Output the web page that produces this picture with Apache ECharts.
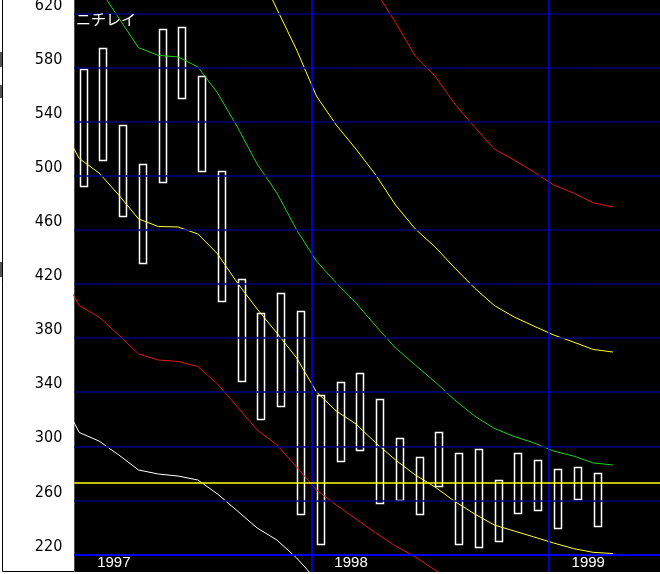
<!DOCTYPE html>
<html><head><meta charset="utf-8">
<script src="https://cdn.jsdelivr.net/npm/echarts@6/dist/echarts.min.js"></script>
<style>html,body{margin:0;padding:0;background:#fff}#c{width:660px;height:574px}</style>
</head><body><div id="c"></div>
<script>
// ---- data (monthly, month 0 = Jan 1997) ----
const chartTitle = 'ニチレイ';
const yearLabels = ['1997', '1998', '1999'];
const yearLabelMonths = [2, 14, 26];
const yearStartMonths = [12, 24];
const refLevel = 273;
const yTicks = [220, 260, 300, 340, 380, 420, 460, 500, 540, 580, 620];

// monthly range boxes (Jan 1997 .. Mar 1999)
const barHigh = [578.7, 594.3, 537.6, 508.7, 608.3, 609.8, 573.8, 503.5, 423.5, 398.3, 413.1, 399.8,
                 337.7, 347.8, 354.0, 334.8, 305.9, 292.3, 310.8, 294.8, 297.8, 274.9, 294.8, 289.6,
                 283.0, 284.5, 280.0];
const barLow  = [491.9, 511.2, 470.3, 435.3, 494.9, 557.3, 503.5, 407.4, 347.8, 320.0, 329.8, 249.9,
                 227.2, 289.4, 297.0, 257.9, 260.3, 249.9, 270.6, 227.5, 225.5, 229.8, 250.5, 252.7,
                 239.4, 260.8, 240.9];

// band lines; each starts at the given month
const redUpperStart = 14;
const redUpper = [660.3, 636.7, 613.4, 588.6, 573.8, 553.1, 536.1, 519.8, 511.7, 502.8, 493.2, 487.3, 480.0, 477.0];
const yellowUpperStart = 9;
const yellowUpper = [653.7, 623.3, 593.0, 559.0, 537.6, 519.8, 500.6, 478.4, 460.7, 447.4, 431.8, 417.0,
                     404.1, 395.6, 388.9, 382.3, 377.1, 371.6, 369.7];
const greenStart = 0;
const greenBand = [660.3, 638.7, 616.7, 594.7, 589.0, 587.9, 580.5, 561.2, 536.1, 508.7, 487.3, 460.0,
                   437.0, 420.8, 406.0, 389.0, 372.7, 360.1, 347.6, 334.2, 322.4, 313.2, 307.3, 302.5,
                   296.5, 292.8, 287.7, 286.2];
const yellowMidStart = -1;
const yellowMid = [539.8, 512.8, 502.1, 485.8, 468.1, 462.5, 462.2, 457.0, 442.2, 420.8, 401.5, 383.8,
                   365.3, 340.2, 326.1, 316.5, 302.5, 289.9, 278.8, 269.9, 259.2, 250.0, 241.8, 237.4,
                   233.0, 228.5, 224.4, 221.6, 220.7];
const redLowerStart = -1;
const redLower = [430.4, 404.1, 395.6, 382.3, 368.3, 363.8, 362.7, 359.0, 346.1, 329.1, 312.1, 301.0,
                  284.7, 267.7, 256.6, 246.3, 235.9, 226.3, 218.2, 208.5, 198.9];
const whiteStart = -1;
const whiteLower = [338.3, 310.2, 303.9, 293.6, 282.5, 279.5, 278.0, 275.1, 264.7, 252.2, 239.6, 230.7, 217.4, 201.2];

// ---- chart ----
const BAR_OFF = 0.47, LINE_OFF = 0.25;
const barData = barHigh.map((h, i) => [i + BAR_OFF, barLow[i], h]);
const toLine = (arr, start) => arr.map((v, k) => [start + k + LINE_OFF, v]);

function lineSeries(name, arr, start, color) {
  return {
    name, type: 'line', data: toLine(arr, start), showSymbol: false, symbol: 'none',
    lineStyle: { color, width: 1 }, silent: true, animation: false, z: 3
  };
}

const chart = echarts.init(document.getElementById('c'), null, { renderer: 'canvas' });
const Y_MIN = 200, Y_MAX = 640;
const pxPerUnit = 1.3525, y220 = 554.5;
const gridTop = y220 - (Y_MAX - 220) * pxPerUnit;
const gridHeight = (Y_MAX - Y_MIN) * pxPerUnit;

chart.setOption({
  backgroundColor: '#fff',
  animation: false,
  title: {
    text: chartTitle, left: 76, top: 12, padding: 0,
    textStyle: { color: '#fff', fontSize: 15, fontWeight: 'normal', fontFamily: 'Noto Sans CJK JP' }
  },
  grid: {
    left: 74.3, right: 0, top: gridTop, height: gridHeight,
    outerBoundsMode: 'none', containLabel: false,
    show: true, backgroundColor: '#000', borderWidth: 0
  },
  xAxis: {
    type: 'value', min: 0, max: 29.63, interval: 2,
    axisLine: { show: false }, axisTick: { show: false }, splitLine: { show: false },
    axisLabel: {
      inside: true, margin: 11, color: '#fff', fontSize: 15, fontFamily: 'Liberation Sans',
      showMinLabel: true, showMaxLabel: false,
      formatter: v => { const k = yearLabelMonths.indexOf(Math.round(v)); return k >= 0 ? yearLabels[k] : ''; }
    }
  },
  yAxis: {
    type: 'value', min: Y_MIN, max: Y_MAX, interval: 20,
    axisLine: { show: false }, axisTick: { show: false },
    splitLine: { show: false },
    axisLabel: {
      showMinLabel: false, showMaxLabel: false, margin: 12, color: '#000', fontSize: 16,
      fontFamily: "'Liberation Sans Narrow','DejaVu Sans Condensed',sans-serif",
      verticalAlign: 'bottom', lineHeight: 16,
      formatter: v => yTicks.indexOf(Math.round(v)) >= 0 ? String(Math.round(v)) : ''
    }
  },
  series: [
    {
      type: 'custom', data: barData, silent: true, z: 2,
      renderItem: (params, api) => {
        const top = api.coord([api.value(0), api.value(2)]);
        const bot = api.coord([api.value(0), api.value(1)]);
        return {
          type: 'rect',
          shape: { x: Math.round(top[0]) - 3.5, y: Math.round(top[1]) + 0.5, width: 7, height: Math.round(bot[1] - top[1]) },
          style: { fill: 'none', stroke: '#fff', lineWidth: 1.5 }
        };
      },
      markLine: {
        silent: true, symbol: 'none', label: { show: false }, animation: false,
        data: [
          ...yTicks.filter(t => t !== 220).map(t => ({ yAxis: t, lineStyle: { color: '#000080', width: 1.5, type: 'solid' } })),
          ...yearStartMonths.map(m => ({ xAxis: m, lineStyle: { color: '#0000ff', width: 1.5, type: 'solid' } })),
          { yAxis: 220, lineStyle: { color: '#0000ee', width: 2, type: 'solid' } },
          { yAxis: refLevel, lineStyle: { color: '#ffff00', width: 1.5, type: 'solid' } }
        ]
      }
    },
    lineSeries('redUpper', redUpper, redUpperStart, '#e01818'),
    lineSeries('yellowUpper', yellowUpper, yellowUpperStart, '#ffff20'),
    lineSeries('green', greenBand, greenStart, '#20d020'),
    lineSeries('yellowMid', yellowMid, yellowMidStart, '#ffff40'),
    lineSeries('redLower', redLower, redLowerStart, '#e01818'),
    lineSeries('white', whiteLower, whiteStart, '#ffffff')
  ],
  graphic: [
    { type: 'rect', z: 100, shape: { x: 0, y: 572, width: 660, height: 2 }, style: { fill: '#fff' } },
    { type: 'polyline', z: 100, shape: { points: [[2.5, 0], [2.5, 571.5], [74, 571.5]] }, style: { stroke: '#000', lineWidth: 1, fill: 'none' } },
    { type: 'rect', z: 100, shape: { x: 0, y: 52, width: 2, height: 15 }, style: { fill: '#555' } },
    { type: 'rect', z: 100, shape: { x: 0, y: 85, width: 2, height: 13 }, style: { fill: '#555' } },
    { type: 'rect', z: 100, shape: { x: 0, y: 262, width: 2, height: 15 }, style: { fill: '#555' } }
  ]
});
</script></body></html>
